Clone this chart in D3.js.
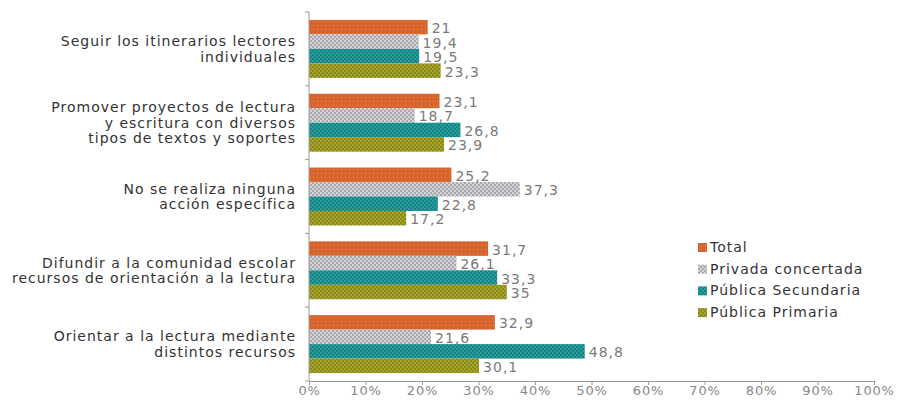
<!DOCTYPE html>
<html><head><meta charset="utf-8">
<script src="https://cdn.jsdelivr.net/npm/d3@7"></script>
<style>body{margin:0;background:#fff}svg{display:block}</style>
</head><body>
<svg id="c" width="905" height="401"></svg>
<script>
const categories = [
  ["Seguir los itinerarios lectores","individuales"],
  ["Promover proyectos de lectura","y escritura con diversos","tipos de textos y soportes"],
  ["No se realiza ninguna","acción específica"],
  ["Difundir a la comunidad escolar","recursos de orientación a la lectura"],
  ["Orientar a la lectura mediante","distintos recursos"]
];
const seriesNames = ["Total","Privada concertada","Pública Secundaria","Pública Primaria"];
const total = [21, 23.1, 25.2, 31.7, 32.9];
const privada = [19.4, 18.7, 37.3, 26.1, 21.6];
const secundaria = [19.5, 26.8, 22.8, 33.3, 48.8];
const primaria = [23.3, 23.9, 17.2, 35, 30.1];
const xTicks = [0,10,20,30,40,50,60,70,80,90,100];
const seriesValues = [total, privada, secundaria, primaria];

const svg = d3.select("#c");
const font = "'DejaVu Sans', Verdana, sans-serif";
const defs = svg.append("defs");
const pats = [
  {bg:"#d6642c", dot:"#e88a55", type:"dot"},
  {bg:"#a8a8ae", dot:"#d4d4d8", type:"check"},
  {bg:"#148484", dot:"#2a9c9c", type:"check"},
  {bg:"#8a8816", dot:"#a6a430", type:"check"}
];
pats.forEach((p,i)=>{
  const pt = defs.append("pattern").attr("id","p"+i).attr("width",4).attr("height",4).attr("patternUnits","userSpaceOnUse");
  pt.append("rect").attr("width",4).attr("height",4).attr("fill",p.bg);
  if(p.type==="dot"){
    pt.append("rect").attr("x",1).attr("y",1).attr("width",1).attr("height",1).attr("fill",p.dot);
  } else {
    pt.append("rect").attr("x",0).attr("y",0).attr("width",2).attr("height",2).attr("fill",p.dot);
    pt.append("rect").attr("x",2).attr("y",2).attr("width",2).attr("height",2).attr("fill",p.dot);
  }
});

const x = d3.scaleLinear().domain([0,100]).range([309,874]);
const y = d3.scaleBand().domain(d3.range(categories.length)).range([12,381]).paddingInner(0.215).paddingOuter(0.1075);
const yb = d3.scaleBand().domain(d3.range(categories.length)).range([12,381]);
const ys = d3.scaleBand().domain(d3.range(seriesNames.length)).range([0,y.bandwidth()]);

seriesValues.forEach((vals,s)=>{
  svg.append("g").selectAll("rect").data(vals).join("rect")
    .attr("x",x(0)).attr("y",(d,i)=>y(i)+ys(s))
    .attr("width",d=>x(d)-x(0)).attr("height",ys.bandwidth())
    .attr("fill","url(#p"+s+")");
});
seriesValues.forEach((vals,s)=>{
  svg.append("g").selectAll("text").data(vals).join("text")
    .attr("x",d=>x(d)+4).attr("y",(d,i)=>y(i)+ys(s)+ys.bandwidth()/2+6)
    .attr("font-family",font).attr("font-size",14).attr("letter-spacing","1px").attr("fill","#7a7a7a")
    .text(d=>String(d).replace(".",","));
});

svg.append("line").attr("x1",309).attr("x2",309).attr("y1",12).attr("y2",381).attr("stroke","#9a9a9a");
svg.append("g").selectAll("line").data(d3.range(categories.length+1)).join("line")
  .attr("x1",305).attr("x2",309)
  .attr("y1",i=>i<categories.length?yb(i):381).attr("y2",i=>i<categories.length?yb(i):381)
  .attr("stroke","#9a9a9a");
const xa = d3.axisBottom(x).tickValues(xTicks).tickFormat(d=>d+"%").tickSize(4).tickSizeOuter(0);
const gx = svg.append("g").attr("transform","translate(0,381)").call(xa);
gx.select(".domain").attr("stroke","#9a9a9a");
gx.selectAll(".tick line").attr("stroke","#9a9a9a");
gx.selectAll("text").attr("font-family",font).attr("font-size",13).attr("letter-spacing","0.8px").attr("fill","#888").attr("dy","0.5em");

categories.forEach((lines,i)=>{
  const cy = yb(i)+yb.bandwidth()/2;
  const lh = 15.5;
  const t = svg.append("text").attr("font-family",font).attr("font-size",14).attr("letter-spacing","1px").attr("fill","#333").attr("text-anchor","end");
  lines.forEach((ln,k)=>{
    t.append("tspan").attr("x",296).attr("y",cy+(k-(lines.length-1)/2)*lh+5).text(ln);
  });
});

const lg = svg.append("g");
seriesNames.forEach((n,s)=>{
  const ly = 247 + s*21.7;
  lg.append("rect").attr("x",698).attr("y",ly-4).attr("width",9).attr("height",9).attr("fill","url(#p"+s+")");
  lg.append("text").attr("x",710).attr("y",ly+5).attr("font-family",font).attr("font-size",14).attr("letter-spacing","1px").attr("fill","#333").text(n);
});
</script>
</body></html>
